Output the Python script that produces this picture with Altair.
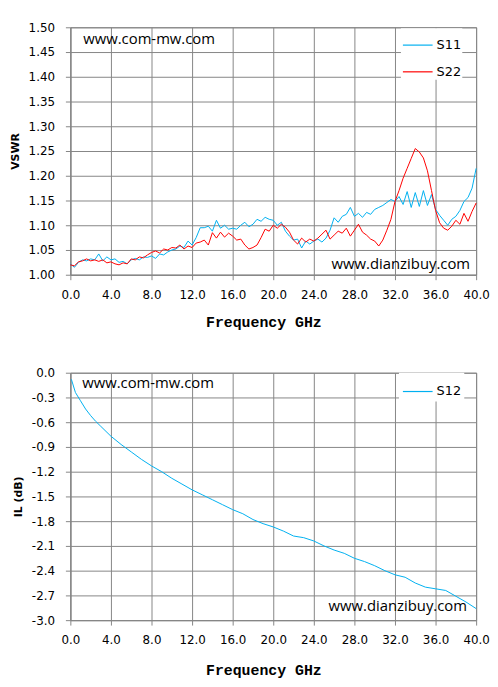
import altair as alt
import pandas as pd

# ---------------- data ----------------
freq = [round(i * 0.4, 1) for i in range(101)]  # sweep 0.0 .. 40.0 GHz

s11 = [1.022, 1.015, 1.025, 1.030, 1.028, 1.032, 1.030, 1.042, 1.028, 1.036,
       1.030, 1.032, 1.025, 1.027, 1.022, 1.030, 1.033, 1.030, 1.036, 1.035,
       1.038, 1.033, 1.042, 1.040, 1.046, 1.050, 1.052, 1.058, 1.055, 1.068,
       1.060, 1.075, 1.095, 1.095, 1.098, 1.088, 1.110, 1.094, 1.100, 1.092,
       1.094, 1.092, 1.100, 1.106, 1.097, 1.102, 1.112, 1.108, 1.116, 1.112,
       1.110, 1.100, 1.106, 1.088, 1.078, 1.070, 1.072, 1.054, 1.068, 1.062,
       1.068, 1.072, 1.066, 1.074, 1.090, 1.115, 1.106, 1.118, 1.122, 1.136,
       1.118, 1.124, 1.116, 1.126, 1.122, 1.132, 1.136, 1.140, 1.146, 1.152,
       1.148, 1.158, 1.142, 1.168, 1.136, 1.166, 1.138, 1.170, 1.140, 1.162,
       1.132, 1.120, 1.110, 1.100, 1.112, 1.118, 1.130, 1.148, 1.156, 1.175,
       1.215]

s22 = [1.020, 1.018, 1.026, 1.028, 1.032, 1.028, 1.030, 1.027, 1.030, 1.024,
       1.026, 1.022, 1.020, 1.024, 1.022, 1.032, 1.030, 1.036, 1.034, 1.040,
       1.045, 1.048, 1.044, 1.052, 1.050, 1.055, 1.054, 1.060, 1.052, 1.058,
       1.055, 1.064, 1.066, 1.070, 1.060, 1.085, 1.074, 1.086, 1.076, 1.084,
       1.078, 1.070, 1.072, 1.060, 1.052, 1.055, 1.060, 1.075, 1.092, 1.088,
       1.100, 1.094, 1.102, 1.096, 1.086, 1.070, 1.062, 1.074, 1.066, 1.072,
       1.068, 1.074, 1.082, 1.090, 1.072, 1.080, 1.088, 1.084, 1.094, 1.078,
       1.090, 1.102, 1.086, 1.080, 1.072, 1.068, 1.058, 1.070, 1.090, 1.112,
       1.148, 1.170, 1.195, 1.215, 1.235, 1.255, 1.248, 1.236, 1.210, 1.170,
       1.130, 1.105, 1.094, 1.090, 1.098, 1.110, 1.102, 1.124, 1.108, 1.128,
       1.145]

il_freq = [0.1, 0.5, 1, 1.5, 2, 2.5, 3, 4, 5, 6, 7, 8, 9, 10, 11, 12, 13, 14,
           15, 16, 17, 18, 19, 20, 21, 22, 23, 24, 25, 26, 27, 28, 29, 30, 31,
           32, 33, 34, 35, 36, 37, 38, 39, 40]
s12 = [-0.08, -0.24, -0.34, -0.44, -0.52, -0.59, -0.65, -0.77, -0.87, -0.96,
       -1.05, -1.13, -1.20, -1.28, -1.35, -1.42, -1.48, -1.54, -1.60, -1.66,
       -1.71, -1.78, -1.83, -1.87, -1.92, -1.98, -2.00, -2.04, -2.10, -2.15,
       -2.19, -2.25, -2.29, -2.34, -2.40, -2.45, -2.48, -2.55, -2.60, -2.62,
       -2.64, -2.71, -2.78, -2.86]

x_ticks = [0, 4, 8, 12, 16, 20, 24, 28, 32, 36, 40]
vswr_ticks = [1.00, 1.05, 1.10, 1.15, 1.20, 1.25, 1.30, 1.35, 1.40, 1.45, 1.50]
il_ticks = [0.0, -0.3, -0.6, -0.9, -1.2, -1.5, -1.8, -2.1, -2.4, -2.7, -3.0]

series_names = ["S11", "S22"]
series_colors = ["#00B0F0", "#FF0000"]

# watermark annotations (data coordinates)
wm_left_text = "www.com-mw.com"
wm_right_text = "www.dianzibuy.com"
top_left_note = pd.DataFrame({"f": [1.27], "v": [1.476], "t": [wm_left_text]})
top_right_note = pd.DataFrame({"f": [39.4], "v": [1.022], "t": [wm_right_text]})
bot_left_note = pd.DataFrame({"f": [1.17], "v": [-0.13], "t": [wm_left_text]})
bot_right_note = pd.DataFrame({"f": [39.1], "v": [-2.83], "t": [wm_right_text]})

# ---------------- styles ----------------
GRID = "#868686"
LABEL_FONT = "DejaVu Sans"
TITLE_FONT_X = "Liberation Mono"
NOTE_FONT = "Open Sans"


def x_axis(tpad):
    return alt.Axis(values=x_ticks, tickCount=len(x_ticks), format=".1f",
                    title="Frequency GHz",
                    titleFont=TITLE_FONT_X, titleFontSize=15, titleFontWeight="bold",
                    titlePadding=tpad, labelPadding=10, titleX=195,
                    labelOverlap=False, labelFlush=False)


def y_axis(title, vals, fmt):
    return alt.Axis(values=vals, tickCount=len(vals), title=title,
                    labelExpr="replace(format(datum.value, '%s'), '\u2212', '-')" % fmt,
                    titleFont=LABEL_FONT, titleFontSize=11, titleFontWeight="bold",
                    titlePadding=8, labelPadding=11,
                    labelOverlap=False, labelFlush=False)


def legend(x, y, pad):
    return alt.Legend(title=None, orient="none", legendX=x, legendY=y,
                      fillColor="white", symbolType="stroke", symbolSize=900,
                      symbolStrokeWidth=1.2, labelFont=LABEL_FONT, labelFontSize=13,
                      labelOffset=3, padding=pad, rowPadding=4, symbolOpacity=1)


def note(df, align, tpad, ytitle, yvals, yfmt):
    return alt.Chart(df).mark_text(font=NOTE_FONT, fontSize=15, color="black",
                                   align=align).encode(
        x=alt.X("f:Q", axis=x_axis(tpad)),
        y=alt.Y("v:Q", axis=y_axis(ytitle, yvals, yfmt)),
        text="t:N")


# ---------------- top chart ----------------
df_top = pd.DataFrame({
    "f": freq * 2,
    "v": s11 + s22,
    "s": ["S11"] * len(s11) + ["S22"] * len(s22),
})

lines_top = alt.Chart(df_top).mark_line(strokeWidth=1).encode(
    x=alt.X("f:Q", scale=alt.Scale(domain=[0, 40], nice=False), axis=x_axis(14)),
    y=alt.Y("v:Q", scale=alt.Scale(domain=[1.0, 1.5], nice=False, zero=False),
            axis=y_axis("VSWR", vswr_ticks, ".2f")),
    color=alt.Color("s:N", scale=alt.Scale(domain=series_names, range=series_colors),
                    legend=legend(334, 1, 1)),
)

# ---------------- bottom chart ----------------
df_bot = pd.DataFrame({"f": il_freq, "v": s12, "s": ["S12"] * len(s12)})

lines_bot = alt.Chart(df_bot).mark_line(strokeWidth=1).encode(
    x=alt.X("f:Q", scale=alt.Scale(domain=[0, 40], nice=False), axis=x_axis(17)),
    y=alt.Y("v:Q", scale=alt.Scale(domain=[-3.0, 0.0], nice=False, zero=False),
            axis=y_axis("IL (dB)", il_ticks, ".1f")),
    color=alt.Color("s:N", scale=alt.Scale(domain=["S12"], range=["#00B0F0"]),
                    legend=legend(332, 0, 3)),
)

top = alt.layer(lines_top,
                note(top_left_note, "left", 14, "VSWR", vswr_ticks, ".2f"),
                note(top_right_note, "right", 14, "VSWR", vswr_ticks, ".2f")
                ).properties(width=410, height=250)
bot = alt.layer(lines_bot,
                note(bot_left_note, "left", 17, "IL (dB)", il_ticks, ".1f"),
                note(bot_right_note, "right", 17, "IL (dB)", il_ticks, ".1f")
                ).properties(width=410, height=250)

chart = alt.vconcat(top, bot, spacing=36).resolve_scale(color="independent").configure(
    padding={"left": 0, "top": 9, "right": 0, "bottom": 0},
    background="white",
).configure_view(stroke=GRID, strokeWidth=1).configure_axis(
    gridColor=GRID, gridWidth=1, gridOpacity=1,
    domainColor=GRID, domainWidth=1, tickColor=GRID, tickSize=5, tickWidth=1,
    labelFont=LABEL_FONT, labelFontSize=12, labelColor="black", titleColor="black",
)

chart.save("out.html", embed_options={"renderer": "svg", "actions": False})
